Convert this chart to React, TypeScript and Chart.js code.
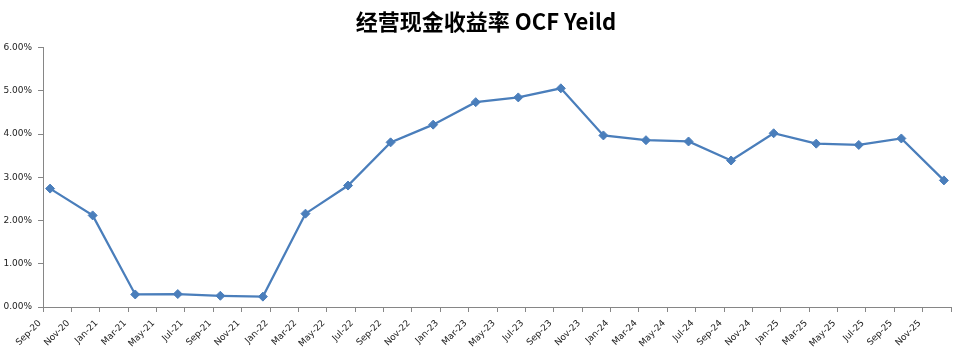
import React, { useEffect, useRef } from 'react';
import { Chart, registerables } from 'chart.js';

Chart.register(...registerables);

const TITLE = '经营现金收益率 OCF Yeild';

// Quarterly observation dates
const quarterLabels = [
  'Sep-20', 'Dec-20', 'Mar-21', 'Jun-21', 'Sep-21', 'Dec-21',
  'Mar-22', 'Jun-22', 'Sep-22', 'Dec-22', 'Mar-23', 'Jun-23',
  'Sep-23', 'Dec-23', 'Mar-24', 'Jun-24', 'Sep-24', 'Dec-24',
  'Mar-25', 'Jun-25', 'Sep-25', 'Dec-25',
];

// OCF yield, percent
const ocfYield = [
  2.74, 2.12, 0.29, 0.30, 0.26, 0.24,
  2.16, 2.81, 3.81, 4.22, 4.74, 4.85,
  5.06, 3.97, 3.86, 3.83, 3.39, 4.02,
  3.78, 3.75, 3.90, 2.93,
];

// X-axis tick labels (every two months)
const xTickLabels = [
  'Sep-20', 'Nov-20', 'Jan-21', 'Mar-21', 'May-21', 'Jul-21', 'Sep-21', 'Nov-21',
  'Jan-22', 'Mar-22', 'May-22', 'Jul-22', 'Sep-22', 'Nov-22',
  'Jan-23', 'Mar-23', 'May-23', 'Jul-23', 'Sep-23', 'Nov-23',
  'Jan-24', 'Mar-24', 'May-24', 'Jul-24', 'Sep-24', 'Nov-24',
  'Jan-25', 'Mar-25', 'May-25', 'Jul-25', 'Sep-25', 'Nov-25',
];

const Y_MIN = 0;
const Y_MAX = 6;
const Y_STEP = 1;

const MONTHS = ['Jan', 'Feb', 'Mar', 'Apr', 'May', 'Jun', 'Jul', 'Aug', 'Sep', 'Oct', 'Nov', 'Dec'];
const monthIndex = (lbl: string) => {
  const [m, y] = lbl.split('-');
  return (2000 + Number(y)) * 12 + MONTHS.indexOf(m);
};

const titlePlugin = {
  id: 'excelTitle',
  afterDraw(chart: any) {
    const ctx = chart.ctx;
    ctx.save();
    ctx.fillStyle = '#000';
    ctx.font = "bold 22px 'Noto Sans CJK SC', 'Noto Sans', sans-serif";
    ctx.textAlign = 'center';
    ctx.textBaseline = 'middle';
    ctx.fillText(TITLE, 486, 22);
    ctx.restore();
  },
};

export default function App() {
  const canvasRef = useRef<HTMLCanvasElement | null>(null);

  useEffect(() => {
    if (!canvasRef.current) return;
    const base = monthIndex(xTickLabels[0]);
    const axisEnd = monthIndex(quarterLabels[quarterLabels.length - 1]) - base + 1;
    const points = quarterLabels.map((q, i) => ({ x: monthIndex(q) - base + 0.5, y: ocfYield[i] }));
    const axisColor = '#868686';
    const tickFont = { family: "'DejaVu Sans', sans-serif", size: 9 };

    const chart = new Chart(canvasRef.current, {
      type: 'line',
      data: {
        datasets: [
          {
            label: 'OCF Yield',
            data: points,
            borderColor: '#4A7EBB',
            backgroundColor: '#4A7EBB',
            borderWidth: 2.25,
            pointStyle: 'rectRot',
            pointRadius: 4.5,
            pointBorderWidth: 1,
            pointBackgroundColor: '#4A7EBB',
            pointBorderColor: '#4A7EBB',
            tension: 0,
          },
        ],
      },
      plugins: [titlePlugin],
      options: {
        responsive: false,
        animation: false,
        layout: { padding: { left: 0, right: 10, top: 47.7, bottom: 0 } },
        plugins: {
          legend: { display: false },
          tooltip: { enabled: false },
          title: { display: false },
        },
        scales: {
          x: {
            type: 'linear',
            min: 0,
            max: axisEnd,
            border: { color: axisColor, width: 1 },
            grid: { drawOnChartArea: false, color: axisColor, tickLength: 5 },
            afterFit: (s: any) => {
              s.height = 48;
              s.paddingRight = 0;
              s.paddingLeft = 0;
            },
            ticks: {
              stepSize: 2,
              maxTicksLimit: 200,
              autoSkip: false,
              minRotation: 45,
              maxRotation: 45,
              color: '#222',
              font: tickFont,
              padding: 6,
              labelOffset: -3,
              callback: (v: any) => {
                const k = Number(v) / 2;
                return Number.isInteger(k) && xTickLabels[k] ? xTickLabels[k] : '';
              },
            },
          },
          y: {
            min: Y_MIN,
            max: Y_MAX,
            border: { color: axisColor, width: 1 },
            grid: { drawOnChartArea: false, color: axisColor, tickLength: 5 },
            afterFit: (s: any) => { s.width = 43; },
            ticks: {
              stepSize: Y_STEP,
              color: '#222',
              font: tickFont,
              padding: 6,
              callback: (v: any) => Number(v).toFixed(2) + '%',
            },
          },
        },
      },
    });
    return () => chart.destroy();
  }, []);

  return (
    <div style={{ position: 'absolute', left: 0, top: 0, width: 961, height: 355, background: '#fff' }}>
      <canvas ref={canvasRef} width={961} height={355} style={{ display: 'block' }} />
    </div>
  );
}
